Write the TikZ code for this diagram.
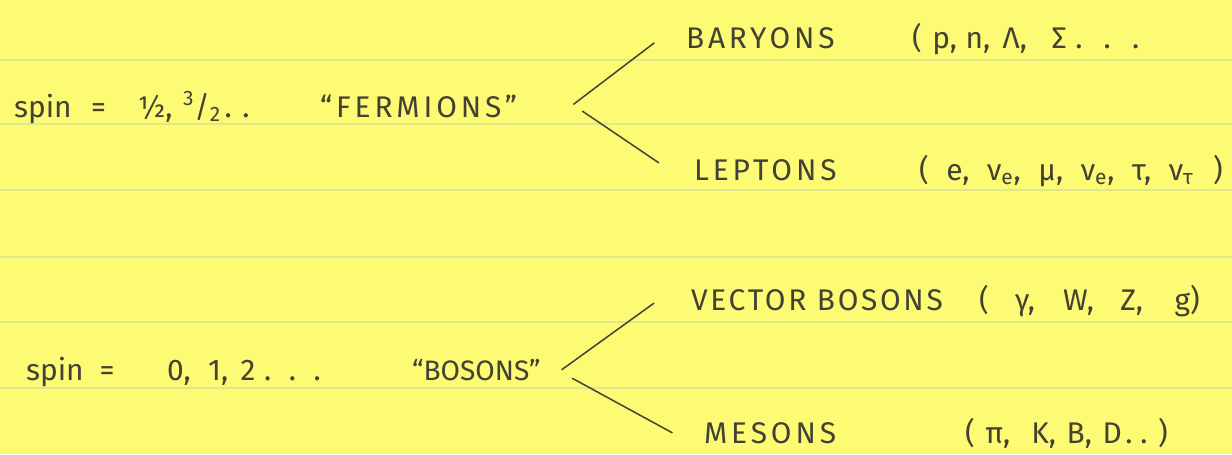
\documentclass[tikz,border=0pt]{standalone}
\usepackage{fontspec}
\setmainfont{Fira Sans}
\usepackage{tikz}
\usetikzlibrary{positioning}
\definecolor{padyellow}{RGB}{253,250,115}
\definecolor{ruleline}{RGB}{222,232,140}
\definecolor{pencil}{RGB}{66,66,52}
\newcommand{\gap}[1][9pt]{\hspace{#1}}
\newcommand{\wide}{\addfontfeatures{LetterSpace=13}}

\begin{document}
\begin{tikzpicture}[
    x=0.02cm, y=-0.02cm,
    note/.style={anchor=base west, inner sep=1pt, text=pencil,
                 font=\fontsize{17}{20}\selectfont},
    branch/.style={draw=pencil, line width=0.85pt, line cap=round}
]
% paper and ruling
\fill[padyellow] (0,0) rectangle (1232,454);
\useasboundingbox (0,0) rectangle (1232,454);
\foreach \y in {60,124,190,257,322,388}
  \draw[ruleline, line width=1pt] (0,\y) -- (1232,\y);

% half-integer spin
\node[note] (fspin) at (12,117) {spin\gap[11pt]=\gap[18pt]½,\gap[6pt]\textsuperscript{3}/\textsubscript{2}\gap[2pt]. .};
\node[note] (fermions) at (318,117) {\wide “FERMIONS”};
\node[note] (baryons) at (684,48) {\wide BARYONS};
\node[note] (baryonlist) at (910,48) {(\gap[6pt]p,\gap[5pt]n,\gap[7pt]Λ,\gap[14pt]Σ\gap[5pt].\gap[12pt].\gap[12pt].};
\node[note] (leptons) at (692,180) {\wide LEPTONS};
\node[note] (leptonlist) at (917,180) {(\gap[10pt]e,\gap[10pt]ν\textsubscript{e},\gap[10pt]μ,\gap[10pt]ν\textsubscript{e},\gap[10pt]τ,\gap[10pt]ν\textsubscript{τ}\gap[11pt])};
\draw[branch] ([xshift=31pt,yshift=1pt]fermions.east) -- ([xshift=-17pt,yshift=-3pt]baryons.west);
\draw[branch] ([xshift=36pt,yshift=-3pt]fermions.east) -- ([xshift=-19pt,yshift=4pt]leptons.west);

% integer spin
\node[note] (bspin) at (24,380) {spin\gap[9pt]=\gap[30pt]0,\gap[10pt]1,\gap[7pt]2\gap[5pt].\gap[10pt].\gap[10pt].};
\node[note, font=\fontsize{16}{20}\selectfont] (bosons) at (410,380) {“BOSONS”};
\node[note] (vector) at (689,310) {\addfontfeatures{LetterSpace=9}VECTOR BOSONS};
\node[note] (vectorlist) at (977,310) {(\gap[15pt]γ,\gap[16pt]W,\gap[15pt]Z,\gap[18pt]g)};
\node[note] (mesons) at (702,443) {\wide MESONS};
\node[note] (mesonlist) at (963,443) {(\gap[6pt]π,\gap[12pt]K,\gap[6pt]B,\gap[6pt]D\gap[2pt]. .\gap[6pt])};
\draw[branch] ([xshift=11pt]bosons.east) -- ([xshift=-20pt,yshift=-2pt]vector.west);
\draw[branch] ([xshift=17pt,yshift=-5pt]bosons.east) -- ([xshift=-17pt,yshift=0pt]mesons.west);
\end{tikzpicture}
\end{document}
